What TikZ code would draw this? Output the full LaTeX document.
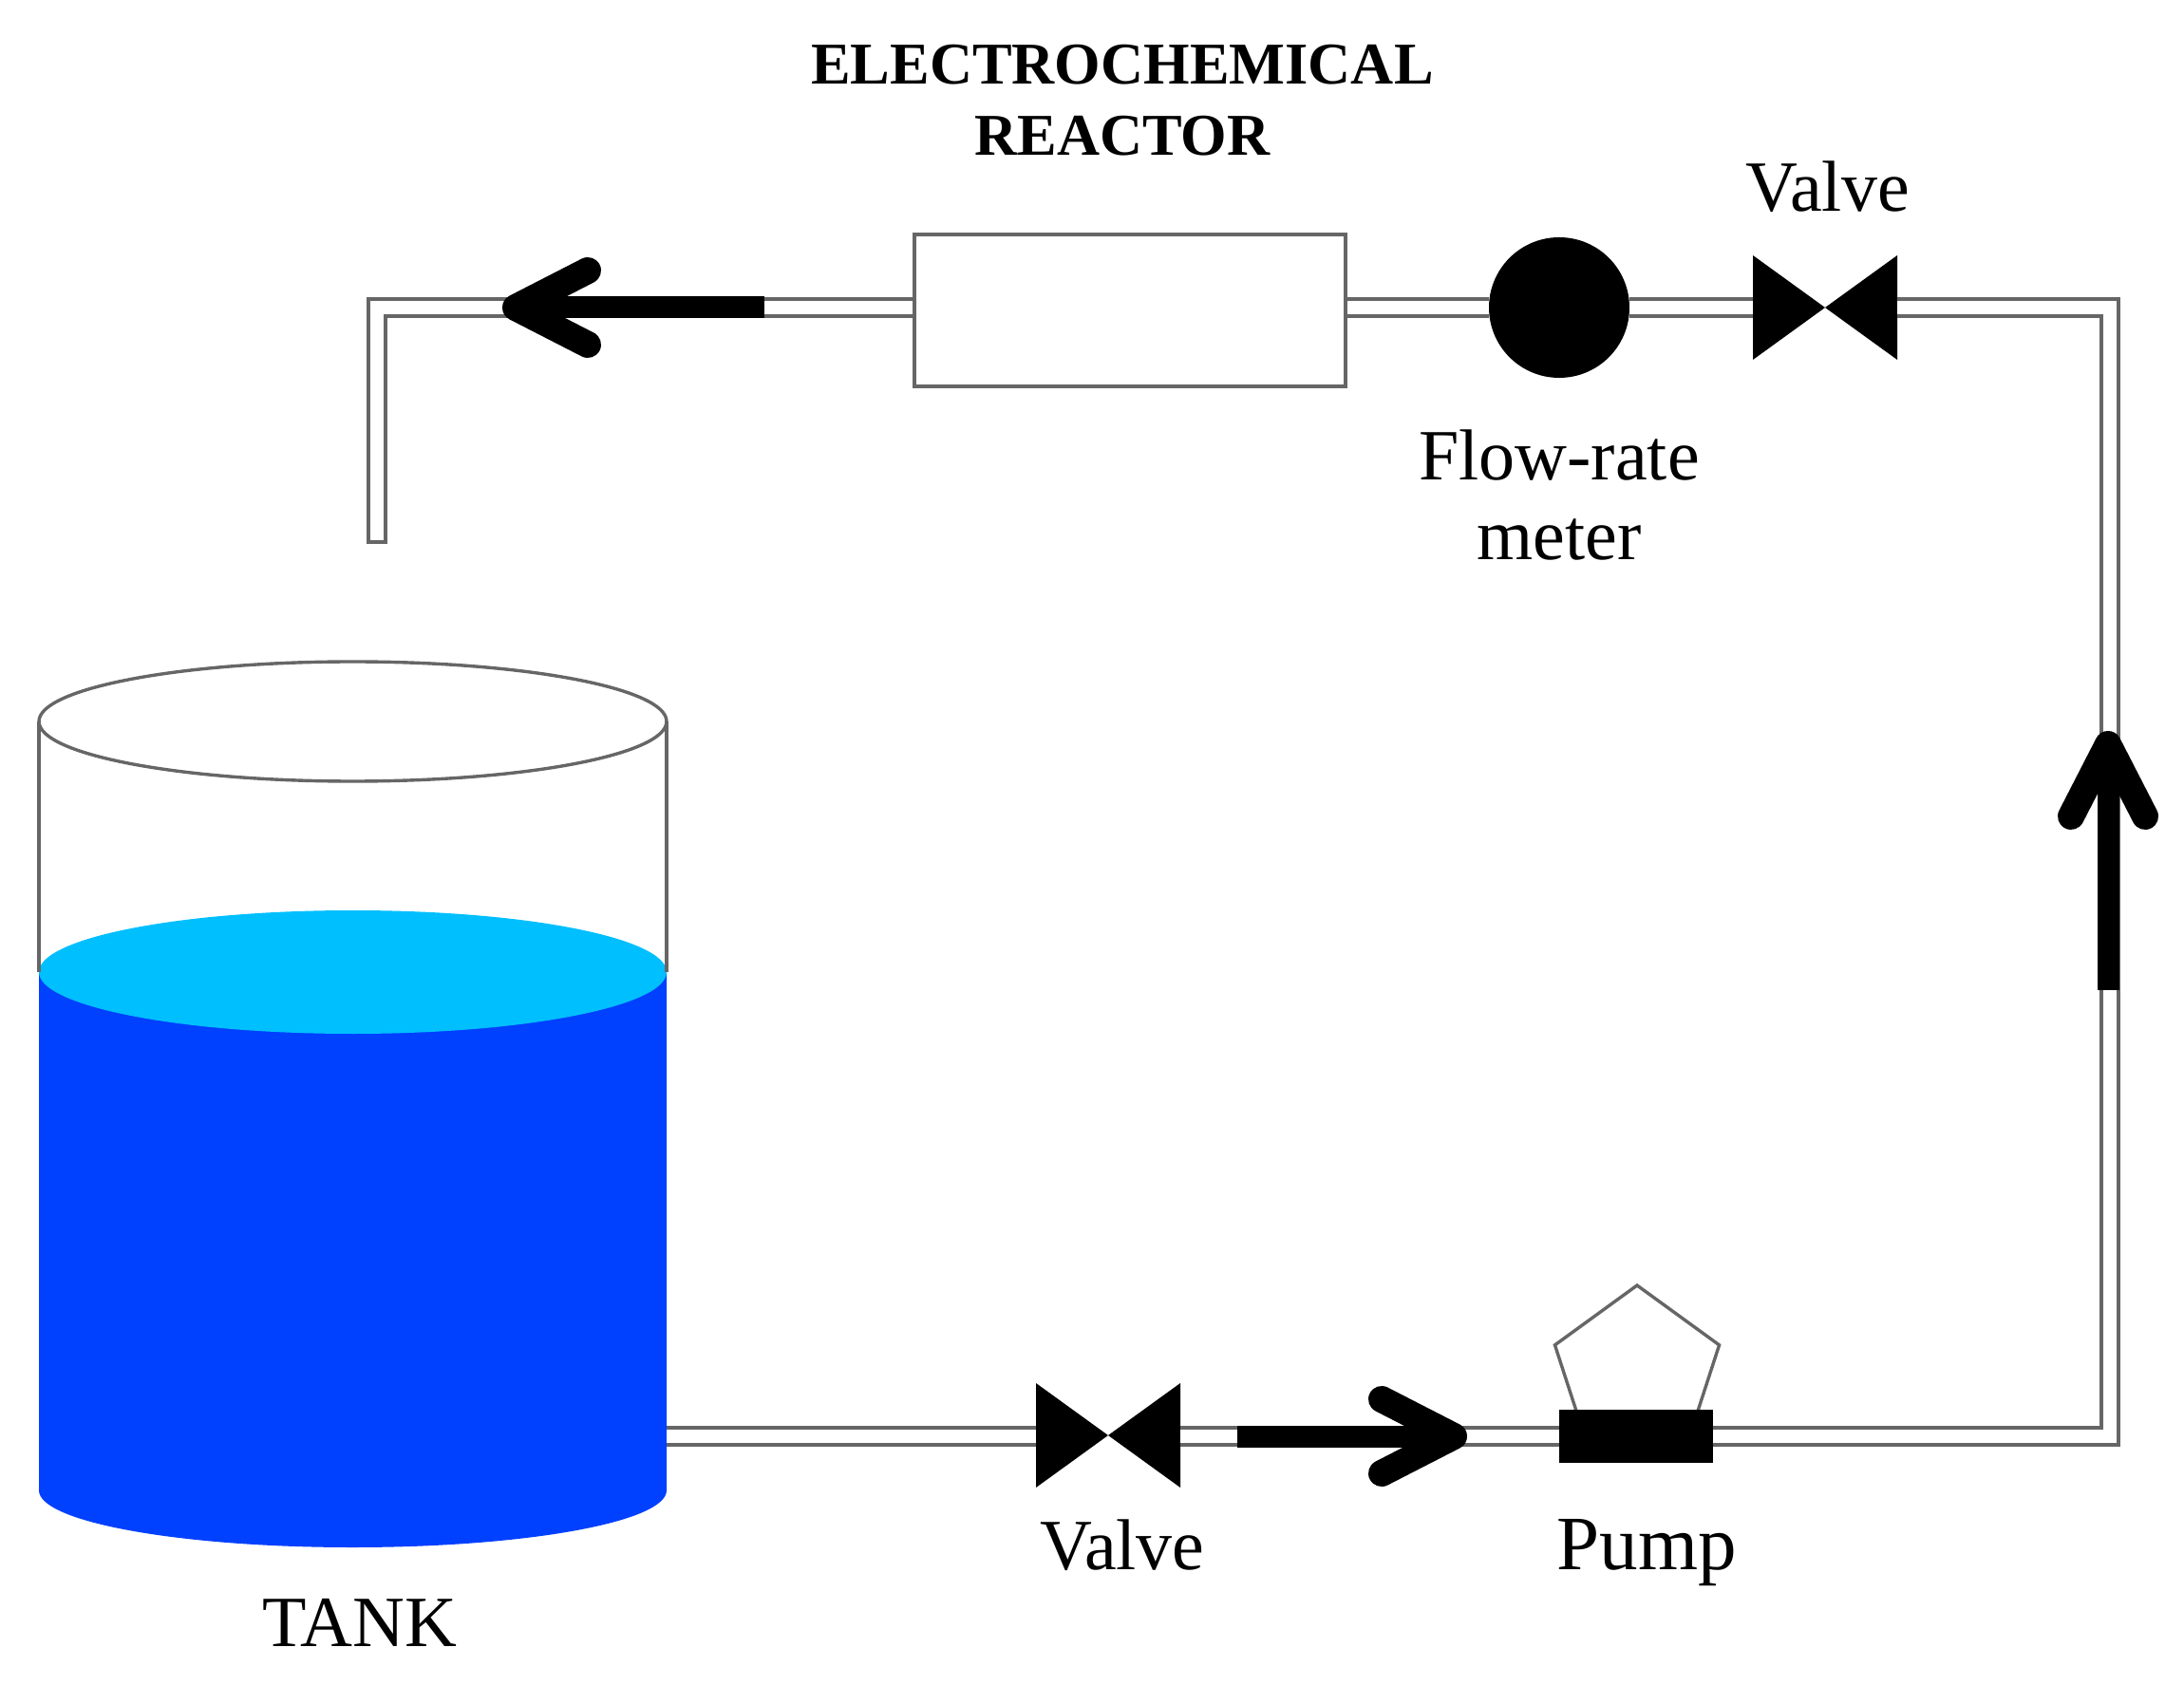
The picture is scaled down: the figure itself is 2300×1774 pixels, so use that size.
\documentclass[tikz,border=0pt]{standalone}
\usepackage{fontspec}
\setmainfont{Liberation Serif}
\usetikzlibrary{arrows.meta,shapes.geometric}

\definecolor{wallgray}{HTML}{666666}
\definecolor{liquiddark}{HTML}{0040FF}
\definecolor{liquidlight}{HTML}{00BFFF}

\tikzstyle{pipe} = [draw=wallgray, line width=2.3pt, double=white, double distance=6.8pt]
\tikzstyle{wall} = [draw=wallgray, line width=1.7pt]
\tikzstyle{flow} = [draw=black, line width=11.5pt, -{Straight Barb[length=38pt, width=39pt, line width=14pt, round]}]
\tikzstyle{tag} = [draw=none, fill=none, text centered, inner sep=0pt, font=\fontsize{38pt}{42pt}\selectfont]
\tikzstyle{title} = [tag, align=center, font=\fontsize{31.2pt}{37.5pt}\selectfont\bfseries]
\tikzstyle{reactor} = [draw=wallgray, line width=1.7pt, fill=white, minimum width=227pt, minimum height=80pt, inner sep=0pt]
\tikzstyle{meter} = [circle, fill=black, minimum size=74pt, inner sep=0pt]
\tikzstyle{valve} = [rectangle, minimum width=76pt, minimum height=55pt, inner sep=0pt, path picture={
    \fill[black] (path picture bounding box.north west) -- (path picture bounding box.south east)
        -- (path picture bounding box.north east) -- (path picture bounding box.south west) -- cycle;
}]
\tikzstyle{pumpbody} = [rectangle, fill=black, minimum width=81pt, minimum height=28pt, inner sep=0pt]
\tikzstyle{pumphead} = [regular polygon, regular polygon sides=5, draw=wallgray, line width=1.7pt, minimum size=91pt, inner sep=0pt]

\begin{document}
\begin{tikzpicture}[x=0.5pt, y=0.5pt]
    \useasboundingbox (0,0) rectangle (2300,1774);

    \fill[liquiddark] (41,750) -- (41,204) arc[start angle=180, end angle=360, x radius=330.5, y radius=60] -- (702,750) -- cycle;
    \fill[liquidlight] (371.5,750) ellipse [x radius=330.5, y radius=65];
    \draw[wall] (41,1014) -- (41,750);
    \draw[wall] (702,1014) -- (702,750);
    \draw[wall] (371.5,1014) ellipse [x radius=330.5, y radius=63];

    \node[reactor] (reactor) at (1190,1447) {};
    \node[meter] (meter) at (1642,1450) {};
    \node[valve] (valvetop) at (1922,1450) {};
    \node[valve] (valvebottom) at (1167,262) {};
    \node[pumphead] (pumphead) at (1724,329) {};
    \node[pumpbody] (pump) at (1723,261) {};

    \coordinate (tankport) at (702,261);
    \coordinate (cornerbottom) at (2222,261);
    \coordinate (cornertop) at (2222,1450);
    \coordinate (outlet) at (397,1203);
    \coordinate (outletleft) at (386,1203);
    \coordinate (outletright) at (408,1203);

    \draw[pipe] (tankport) -- (tankport -| valvebottom.west);
    \draw[pipe] (tankport -| valvebottom.east) -- (pump.west);
    \draw[pipe] (pump.east) -- (cornerbottom) -- (cornertop) -- (valvetop.east);
    \draw[pipe] (valvetop.west) -- (meter.east);
    \draw[pipe] (meter.west) -- (meter.west -| reactor.east);
    \draw[pipe] (meter.west -| reactor.west) -| (outlet);
    \draw[wall] (outletleft) -- (outletright);

    \coordinate (flowbottoma) at (1303,261);
    \coordinate (flowbottomb) at (1545,261);
    \coordinate (flowrighta) at (2220,731);
    \coordinate (flowrightb) at (2220,1004);
    \coordinate (flowtopa) at (805,1450);
    \coordinate (flowtopb) at (529,1450);
    \draw[flow] (flowbottoma) -- (flowbottomb);
    \draw[flow] (flowrighta) -- (flowrightb);
    \draw[flow] (flowtopa) -- (flowtopb);

    \node[title] (reactorname) at (1182,1668) {ELECTROCHEMICAL\\REACTOR};
    \node[tag, anchor=base] (valvetopname) at (1925,1551) {Valve};
    \node[tag, align=center] (metername) at (1642,1252) {Flow-rate\\meter};
    \node[tag, anchor=base] (valvebottomname) at (1182,121) {Valve};
    \node[tag, anchor=base, font=\fontsize{40.5pt}{42pt}\selectfont] (pumpname) at (1734,121) {Pump};
    \node[tag, anchor=base] (tankname) at (379,40) {TANK};
\end{tikzpicture}
\end{document}
